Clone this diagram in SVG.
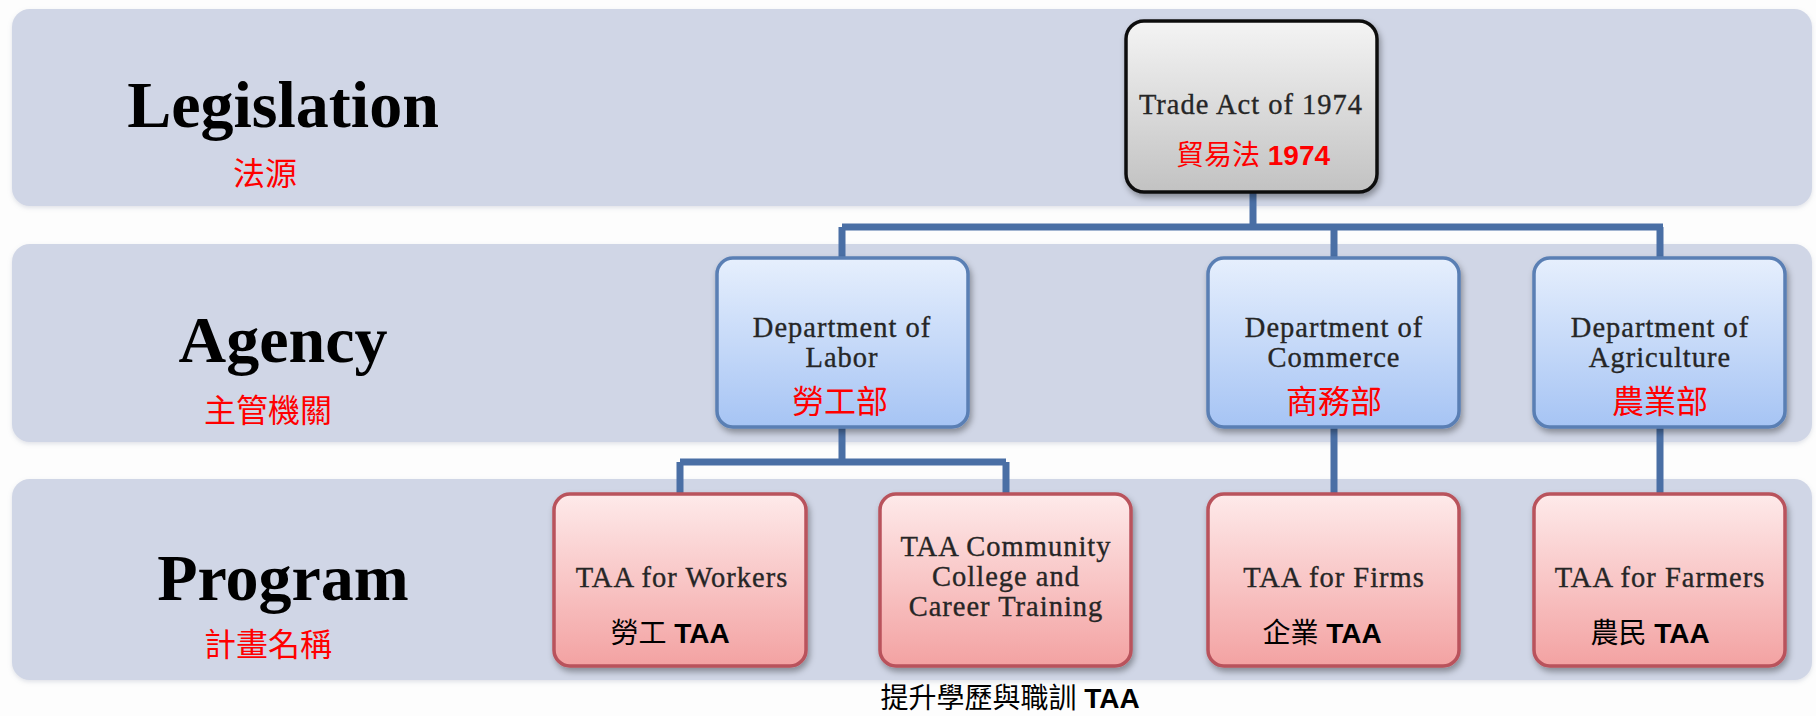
<svg xmlns="http://www.w3.org/2000/svg" width="1816" height="716" viewBox="0 0 1816 716">
<defs>
<linearGradient id="gGray" x1="0" y1="0" x2="0" y2="1"><stop offset="0" stop-color="#f4f4f4"/><stop offset="1" stop-color="#c2c2c2"/></linearGradient>
<linearGradient id="gBlue" x1="0" y1="0" x2="0" y2="1"><stop offset="0" stop-color="#e6effd"/><stop offset="1" stop-color="#a6c4f4"/></linearGradient>
<linearGradient id="gPink" x1="0" y1="0" x2="0" y2="1"><stop offset="0" stop-color="#feeaea"/><stop offset="1" stop-color="#f3a2a2"/></linearGradient>
<filter id="sh" x="-10%" y="-10%" width="125%" height="130%"><feDropShadow dx="2" dy="4" stdDeviation="3" flood-color="#000" flood-opacity="0.35"/></filter>
<filter id="bandsh" x="-2%" y="-5%" width="104%" height="115%"><feDropShadow dx="0" dy="2" stdDeviation="2" flood-color="#9aa3b8" flood-opacity="0.3"/></filter>
</defs>
<style>
.band{fill:#d0d6e6;}
.lbl{font-family:"Liberation Serif",serif;font-weight:bold;font-size:66px;fill:#000;text-anchor:middle;}
.cn{font-family:"Noto Sans CJK TC",sans-serif;font-size:32px;fill:#ff0000;text-anchor:middle;}
.en{font-family:"Liberation Serif",serif;font-size:28.5px;fill:#262626;stroke:#262626;stroke-width:0.35;text-anchor:middle;letter-spacing:1px;}
.mix{font-family:"Liberation Sans","Noto Sans CJK TC",sans-serif;font-size:28px;text-anchor:middle;}
.b{font-weight:bold;}
.gray{fill:url(#gGray);stroke:#111;stroke-width:3.5;filter:url(#sh);}
.blue{fill:url(#gBlue);stroke:#5a7fb4;stroke-width:3.5;filter:url(#sh);}
.pink{fill:url(#gPink);stroke:#b9525c;stroke-width:3.5;filter:url(#sh);}
.conn{fill:none;stroke:#4a6fa5;stroke-width:7;}
</style>
<rect width="1816" height="716" fill="#fdfdfd"/>
<g id="bands">
<rect class="band" x="12" y="9" width="1800" height="197" rx="18" filter="url(#bandsh)"/>
<rect class="band" x="12" y="244" width="1800" height="198" rx="18" filter="url(#bandsh)"/>
<rect class="band" x="12" y="479" width="1800" height="201" rx="18" filter="url(#bandsh)"/>
</g>
<g id="labels">
<text class="lbl" x="283" y="127">Legislation</text>
<text class="cn" x="265" y="185">法源</text>
<text class="lbl" x="283" y="362">Agency</text>
<text class="cn" x="268" y="422">主管機關</text>
<text class="lbl" x="283" y="600">Program</text>
<text class="cn" x="268" y="656">計畫名稱</text>
</g>
<g id="connectors">
<path class="conn" d="M1253 190 V227 M842 227 H1663 M842 227 V260 M1334 227 V260 M1660 227 V260"/>
<path class="conn" d="M842 426 V462 M680 462 H1006 M680 462 V496 M1006 462 V496 M1334 426 V496 M1660 426 V496"/>
</g>
<g id="trade-act">
<rect class="gray" x="1126" y="21" width="251" height="171" rx="18"/>
<text class="en" x="1251" y="114" letter-spacing="0.6">Trade Act of 1974</text>
<text class="mix" x="1253" y="165" font-size="32" fill="#ff0000">貿易法 <tspan class="b">1974</tspan></text>
</g>
<g id="dept-labor">
<rect class="blue" x="717" y="258" width="251" height="169" rx="16"/>
<text class="en" x="842" y="337">Department of</text>
<text class="en" x="842" y="367">Labor</text>
<text class="cn" x="840" y="413">勞工部</text>
</g>
<g id="dept-commerce">
<rect class="blue" x="1208" y="258" width="251" height="169" rx="16"/>
<text class="en" x="1334" y="337">Department of</text>
<text class="en" x="1334" y="367">Commerce</text>
<text class="cn" x="1334" y="413">商務部</text>
</g>
<g id="dept-agriculture">
<rect class="blue" x="1534" y="258" width="251" height="169" rx="16"/>
<text class="en" x="1660" y="337">Department of</text>
<text class="en" x="1660" y="367">Agriculture</text>
<text class="cn" x="1660" y="413">農業部</text>
</g>
<g id="taa-workers">
<rect class="pink" x="554" y="494" width="252" height="172" rx="16"/>
<text class="en" x="682" y="587">TAA for Workers</text>
<text class="mix" x="670" y="643" fill="#000">勞工 <tspan class="b">TAA</tspan></text>
</g>
<g id="taa-community">
<rect class="pink" x="880" y="494" width="251" height="172" rx="16"/>
<text class="en" x="1006" y="556">TAA Community</text>
<text class="en" x="1006" y="586">College and</text>
<text class="en" x="1006" y="616">Career Training</text>
</g>
<g id="taa-firms">
<rect class="pink" x="1208" y="494" width="251" height="172" rx="16"/>
<text class="en" x="1334" y="587">TAA for Firms</text>
<text class="mix" x="1322" y="643" fill="#000">企業 <tspan class="b">TAA</tspan></text>
</g>
<g id="taa-farmers">
<rect class="pink" x="1534" y="494" width="251" height="172" rx="16"/>
<text class="en" x="1660" y="587">TAA for Farmers</text>
<text class="mix" x="1650" y="643" fill="#000">農民 <tspan class="b">TAA</tspan></text>
</g>
<g id="footnote">
<text class="mix" x="1010" y="708" fill="#000">提升學歷與職訓 <tspan class="b">TAA</tspan></text>
</g>
</svg>
